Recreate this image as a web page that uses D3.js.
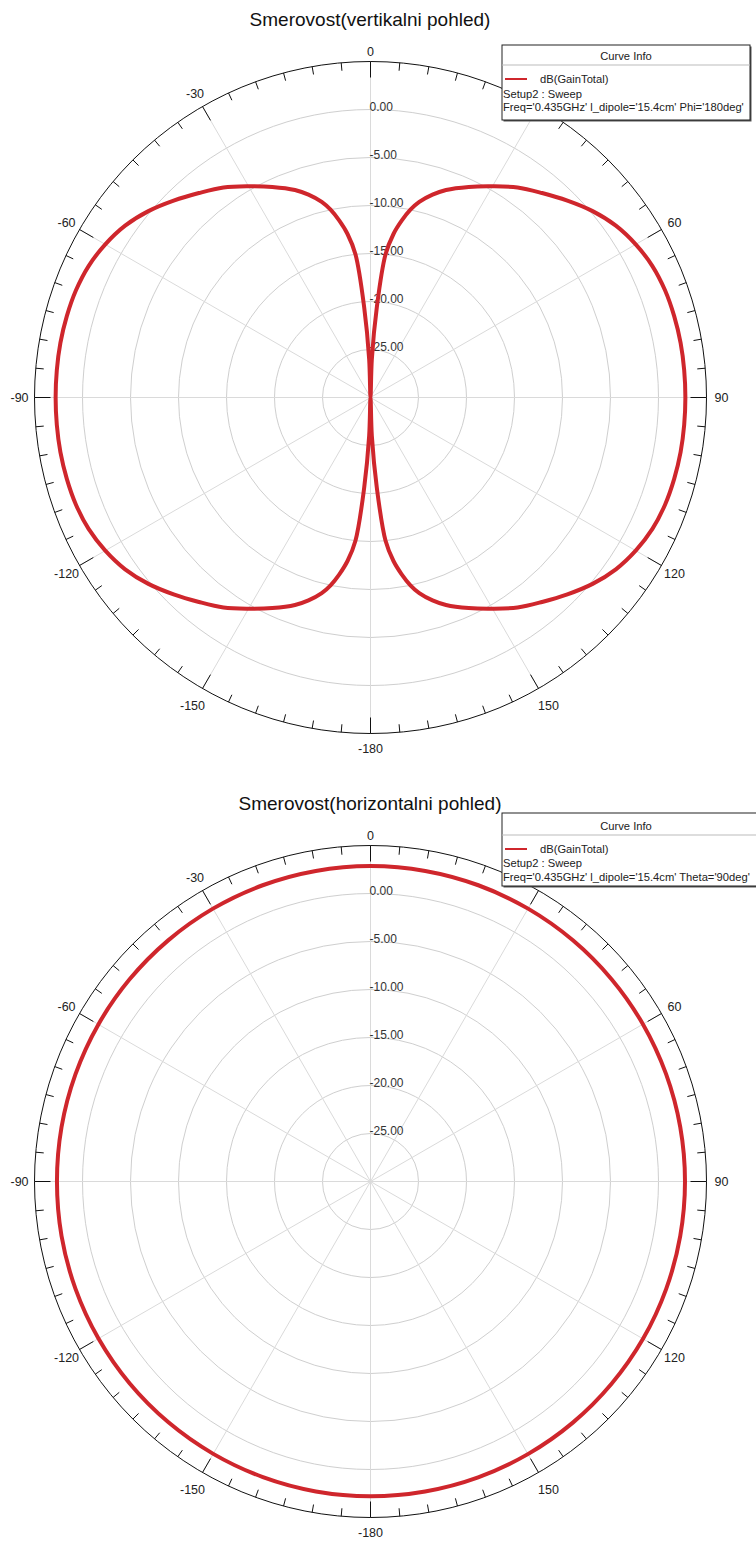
<!DOCTYPE html>
<html><head><meta charset="utf-8">
<script src="https://cdn.jsdelivr.net/npm/d3@7/dist/d3.min.js"></script>
<style>body{margin:0;background:#fff;}svg{display:block;font-family:Arial,"Liberation Sans",sans-serif;}</style>
</head><body><svg id="c" width="756" height="1541"></svg>
<script>
// ---- data ----
// (the "30" label is hidden under the legend box in the reference)
const angleTickValues = [-150,-120,-90,-60,-30,0,60,90,120,150,180];
const angleTickLabels = ["-150","-120","-90","-60","-30","0","60","90","120","150","-180"];
const ringValues = [-25,-20,-15,-10,-5,0];
const ringLabels = ["-25.00","-20.00","-15.00","-10.00","-5.00","0.00"];
const radialDomain = [-30, 5];

// vertical cut (Phi=180deg): right lobe angles 0..180, left lobe -2..-178
const vertAnglesRight = [0,2,4,6,8,10,12,14,17,20,25,30,35,40,45,50,55,60,65,70,75,80,85,90,95,100,105,110,115,120,125,130,135,140,145,150,155,160,163,166,168,170,172,174,176,178,180];
const vertGainRight   = [-32,-26,-20.6,-15,-12.8,-11.3,-10.0,-9.0,-7.9,-7.0,-5.8,-4.6,-3.3,-2.2,-1.0,0.2,1.2,1.9,2.4,2.65,2.75,2.8,2.8,2.8,2.8,2.8,2.75,2.65,2.4,1.9,1.2,0.2,-1.0,-2.2,-3.3,-4.6,-5.8,-7.0,-7.9,-9.0,-10.0,-11.3,-12.8,-15,-20.6,-26,-32];
const vertAnglesLeft  = [-178,-176,-174,-172,-170,-168,-166,-163,-160,-155,-150,-145,-140,-135,-130,-125,-120,-115,-110,-105,-100,-95,-90,-85,-80,-75,-70,-65,-60,-55,-50,-45,-40,-35,-30,-25,-20,-17,-14,-12,-10,-8,-6,-4,-2];
const vertGainLeft    = [-26,-20.6,-15,-12.8,-11.3,-10.0,-9.0,-7.9,-7.0,-5.8,-4.6,-3.3,-2.2,-1.0,0.2,1.2,1.9,2.4,2.65,2.75,2.8,2.8,2.8,2.8,2.8,2.75,2.65,2.4,1.9,1.2,0.2,-1.0,-2.2,-3.3,-4.6,-5.8,-7.0,-7.9,-9.0,-10.0,-11.3,-12.8,-15,-20.6,-26];

// horizontal cut (Theta=90deg)
const horizAngles = [-180,-170,-160,-150,-140,-130,-120,-110,-100,-90,-80,-70,-60,-50,-40,-30,-20,-10,0,10,20,30,40,50,60,70,80,90,100,110,120,130,140,150,160,170];
const horizGain   = [2.78,2.78,2.77,2.76,2.75,2.74,2.72,2.7,2.68,2.66,2.68,2.7,2.73,2.76,2.79,2.82,2.84,2.85,2.86,2.85,2.84,2.82,2.8,2.78,2.77,2.76,2.76,2.76,2.76,2.77,2.78,2.78,2.79,2.79,2.79,2.78];

const titles = ["Smerovost(vertikalni pohled)", "Smerovost(horizontalni pohled)"];
const legendName = "dB(GainTotal)";
const legendSetup = "Setup2 : Sweep";
const legendFreq = ["Freq='0.435GHz' l_dipole='15.4cm' Phi='180deg'", "Freq='0.435GHz' l_dipole='15.4cm' Theta='90deg'"];

// ---- drawing ----
const svg = d3.select("#c");
const R = 336;
const rScale = d3.scaleLinear().domain(radialDomain).range([0, R]).clamp(true);
const rad = d => d * Math.PI / 180;
const red = "#cf262c";
const labelRadius = d => (d === 0 ? 346 : (Math.abs(d) === 150 ? 356 : 351));

const charts = [
  {cx: 370.5, cy: 397.5, titleY: 26, pts: vertAnglesRight.map((a,i)=>[a,vertGainRight[i]]).concat(vertAnglesLeft.map((a,i)=>[a,vertGainLeft[i]])),
   legend: {x: 502, y: 45, w: 248, h: 75, hdr: 60, sep: 65, ln: 79, s: 98, f: 111}},
  {cx: 370.5, cy: 1181.5, titleY: 810, pts: horizAngles.map((a,i)=>[a,horizGain[i]]),
   legend: {x: 502, y: 813, w: 258, h: 73, hdr: 830, sep: 835, ln: 849, s: 867, f: 881}}
];

charts.forEach((c, ci) => {
  const g = svg.append("g").attr("transform", `translate(${c.cx},${c.cy})`);
  g.selectAll("circle.ring").data(ringValues).enter()
    .append("circle").attr("r", d => rScale(d)).attr("fill", "none").attr("stroke", "#cfcfcf").attr("stroke-width", 1);
  const spokes = d3.range(0, 360, 30);
  g.selectAll("line.spoke").data(spokes).enter().append("line")
    .attr("x1", 0).attr("y1", 0)
    .attr("x2", d => R * Math.sin(rad(d))).attr("y2", d => -R * Math.cos(rad(d)))
    .attr("stroke", "#dadada").attr("stroke-width", 1);
  g.append("circle").attr("r", R).attr("fill", "none").attr("stroke", "#111").attr("stroke-width", 1);
  const ticks = d3.range(0, 360, 5);
  g.selectAll("line.tick").data(ticks).enter().append("line")
    .attr("x1", d => R * Math.sin(rad(d))).attr("y1", d => -R * Math.cos(rad(d)))
    .attr("x2", d => (R - (d % 30 === 0 ? 16 : 8)) * Math.sin(rad(d)))
    .attr("y2", d => -(R - (d % 30 === 0 ? 16 : 8)) * Math.cos(rad(d)))
    .attr("stroke", "#111").attr("stroke-width", 1);
  g.selectAll("text.alab").data(angleTickValues).enter().append("text")
    .attr("x", d => labelRadius(d) * Math.sin(rad(d)))
    .attr("y", d => -labelRadius(d) * Math.cos(rad(d)) + 4.5)
    .attr("text-anchor", "middle").attr("font-size", 12.5).attr("fill", "#222")
    .text((d, i) => angleTickLabels[i]);
  g.selectAll("text.rlab").data(ringValues).enter().append("text")
    .attr("x", -1).attr("y", d => -rScale(d) + 1)
    .attr("font-size", 12).attr("fill", "#333")
    .text((d, i) => ringLabels[i]);
  const line = d3.lineRadial().angle(d => rad(d[0])).radius(d => rScale(d[1])).curve(d3.curveCatmullRomClosed.alpha(0.5));
  g.append("path").attr("d", line(c.pts)).attr("fill", "none").attr("stroke", red).attr("stroke-width", 4).attr("stroke-linejoin", "round");
  svg.append("text").attr("x", 370).attr("y", c.titleY).attr("text-anchor", "middle").attr("font-size", 19).attr("fill", "#111").text(titles[ci]);
  const L = c.legend;
  const lg = svg.append("g");
  lg.append("rect").attr("x", L.x + 1.5).attr("y", L.y + 1.5).attr("width", L.w).attr("height", L.h).attr("fill", "#555");
  lg.append("rect").attr("x", L.x).attr("y", L.y).attr("width", L.w).attr("height", L.h).attr("fill", "#fff").attr("stroke", "#222").attr("stroke-width", 1);
  lg.append("text").attr("x", L.x + 124).attr("y", L.hdr).attr("text-anchor", "middle").attr("font-size", 11.2).attr("fill", "#222").text("Curve Info");
  lg.append("line").attr("x1", L.x).attr("x2", L.x + L.w).attr("y1", L.sep).attr("y2", L.sep).attr("stroke", "#bbb");
  lg.append("line").attr("x1", L.x + 3).attr("x2", L.x + 25).attr("y1", L.ln).attr("y2", L.ln).attr("stroke", red).attr("stroke-width", 2);
  lg.append("text").attr("x", L.x + 38).attr("y", L.ln + 4).attr("font-size", 11.2).attr("fill", "#222").text(legendName);
  lg.append("text").attr("x", L.x + 1).attr("y", L.s).attr("font-size", 11.2).attr("fill", "#222").text(legendSetup);
  lg.append("text").attr("x", L.x + 1).attr("y", L.f).attr("font-size", 11.2).attr("fill", "#222").text(legendFreq[ci]);
});
</script></body></html>
